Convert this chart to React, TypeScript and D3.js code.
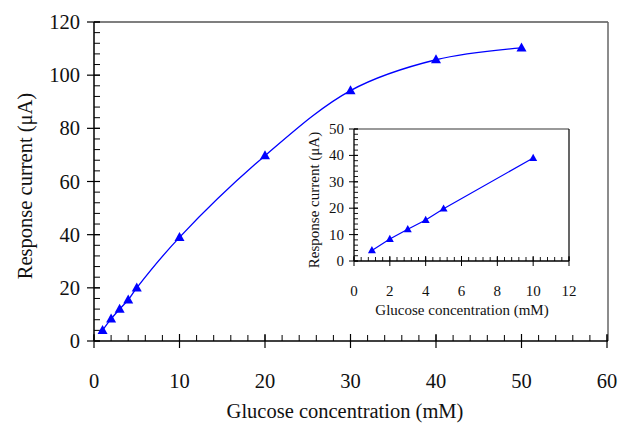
import React from "react";
import * as d3 from "d3";

const glucose = [1, 2, 3, 4, 5, 10, 20, 30, 40, 50];
const current = [4, 8.3, 12, 15.5, 20, 39, 69.7, 94.2, 105.8, 110.3];
const insetGlucose = [1, 2, 3, 4, 5, 10];
const insetCurrent = [4, 8.3, 12, 15.5, 19.8, 39];
const xTicks = [0, 10, 20, 30, 40, 50, 60];
const yTicks = [0, 20, 40, 60, 80, 100, 120];
const insetXTicks = [0, 2, 4, 6, 8, 10, 12];
const insetYTicks = [0, 10, 20, 30, 40, 50];
const xTitle = "Glucose concentration (mM)";
const yTitle = "Response current (\u03bcA)";

const FONT = '"Liberation Serif", "DejaVu Serif", serif';
const BLUE = "#0000FF";
const MAIN_FS = 20.5;

function tri(cx: number, cy: number, s: number) {
  const h = s * 0.9;
  return `M${cx},${cy - h * 0.6}L${cx + s / 2},${cy + h * 0.4}L${cx - s / 2},${cy + h * 0.4}Z`;
}

export default function App() {
  const x = d3.scaleLinear().domain([0, 60]).range([94, 607]);
  const y = d3.scaleLinear().domain([0, 120]).range([341, 22]);
  const ix = d3.scaleLinear().domain([0, 12]).range([354, 569]);
  const iy = d3.scaleLinear().domain([0, 50]).range([261, 129]);

  const mainPts = glucose.map((g, i) => [g, current[i]] as [number, number]);
  const insetPts = insetGlucose.map((g, i) => [g, insetCurrent[i]] as [number, number]);

  const mainLine = d3
    .line<[number, number]>()
    .x((d) => x(d[0]))
    .y((d) => y(d[1]))
    .curve(d3.curveCatmullRom.alpha(0.5));
  const insetLine = d3
    .line<[number, number]>()
    .x((d) => ix(d[0]))
    .y((d) => iy(d[1]));

  const xMinor = d3.range(0, 60.001, 2);
  const yMinor = d3.range(0, 120.001, 4);
  const ixMinor = d3.range(0, 12.001, 0.4);
  const iyMinor = d3.range(0, 50.001, 2);

  const ts = { fontFamily: FONT };

  return (
    <svg
      width={621}
      height={429}
      style={{ position: "absolute", left: 0, top: 0, background: "#fff", fontFamily: FONT }}
    >
      <rect x={0} y={0} width={621} height={429} fill="#fff" />
      {/* main frame */}
      <line x1={x(0)} x2={608} y1={y(120)} y2={y(120)} stroke="#000" strokeWidth={1.2} />
      <line x1={608} x2={608} y1={y(120)} y2={y(0)} stroke="#666" strokeWidth={1.5} />
      {/* main axes */}
      <line x1={x(0)} x2={608} y1={y(0)} y2={y(0)} stroke="#000" strokeWidth={1.5} />
      <line x1={x(0)} x2={x(0)} y1={y(0)} y2={y(120)} stroke="#000" strokeWidth={1.5} />
      {xMinor.map((v) => (
        <line key={"xm" + v} x1={x(v)} x2={x(v)} y1={y(0)} y2={y(0) - 6} stroke="#000" strokeWidth={1} />
      ))}
      {xTicks.map((v) => (
        <g key={"x" + v}>
          <line x1={x(v)} x2={x(v)} y1={y(0) - 7} y2={y(0) + 7} stroke="#000" strokeWidth={1.2} />
          <text x={x(v)} y={388} textAnchor="middle" fontSize={MAIN_FS} fill="#111" style={ts}>
            {v}
          </text>
        </g>
      ))}
      {yMinor.map((v) => (
        <line key={"ym" + v} x1={x(0)} x2={x(0) + 6} y1={y(v)} y2={y(v)} stroke="#000" strokeWidth={1} />
      ))}
      {yTicks.map((v) => (
        <g key={"y" + v}>
          <line x1={x(0) - 7} x2={x(0) + 6} y1={y(v)} y2={y(v)} stroke="#000" strokeWidth={1.2} />
          <text x={80} y={y(v) + 7} textAnchor="end" fontSize={MAIN_FS} fill="#111" style={ts}>
            {v}
          </text>
        </g>
      ))}
      <text x={345} y={418} textAnchor="middle" fontSize={MAIN_FS} fill="#111" style={ts}>
        {xTitle}
      </text>
      <text
        transform={`translate(32,${186}) rotate(-90)`}
        textAnchor="middle"
        fontSize={MAIN_FS}
        fill="#111"
        style={ts}
      >
        {yTitle}
      </text>
      <path d={mainLine(mainPts) || ""} fill="none" stroke={BLUE} strokeWidth={1.3} />
      {mainPts.map((d, i) => (
        <path key={"mp" + i} d={tri(x(d[0]), y(d[1]), 10)} fill={BLUE} />
      ))}

      {/* inset */}
      <line x1={ix(0)} x2={ix(12)} y1={iy(50)} y2={iy(50)} stroke="#777" strokeWidth={1.3} />
      <line x1={ix(12)} x2={ix(12)} y1={iy(50)} y2={iy(0)} stroke="#000" strokeWidth={1.2} />
      <line x1={ix(0)} x2={ix(12)} y1={iy(0)} y2={iy(0)} stroke="#000" strokeWidth={1.3} />
      <line x1={ix(0)} x2={ix(0)} y1={iy(0)} y2={iy(50)} stroke="#000" strokeWidth={1.3} />
      {ixMinor.map((v) => (
        <line key={"ixm" + v} x1={ix(v)} x2={ix(v)} y1={iy(0)} y2={iy(0) - 4} stroke="#000" strokeWidth={0.9} />
      ))}
      {insetXTicks.map((v) => (
        <g key={"ix" + v}>
          <line x1={ix(v)} x2={ix(v)} y1={iy(0) - 5} y2={iy(0) + 5} stroke="#000" strokeWidth={1} />
          <text x={ix(v)} y={296} textAnchor="middle" fontSize={15} fill="#111" style={ts}>
            {v}
          </text>
        </g>
      ))}
      {iyMinor.map((v) => (
        <line key={"iym" + v} x1={ix(0)} x2={ix(0) + 4} y1={iy(v)} y2={iy(v)} stroke="#000" strokeWidth={0.9} />
      ))}
      {insetYTicks.map((v) => (
        <g key={"iy" + v}>
          <line x1={ix(0) - 5} x2={ix(0) + 4} y1={iy(v)} y2={iy(v)} stroke="#000" strokeWidth={1} />
          <text x={344} y={iy(v) + 5} textAnchor="end" fontSize={15} fill="#111" style={ts}>
            {v}
          </text>
        </g>
      ))}
      <text x={462} y={315} textAnchor="middle" fontSize={15} fill="#111" style={ts}>
        {xTitle}
      </text>
      <text
        transform={`translate(319,${200}) rotate(-90)`}
        textAnchor="middle"
        fontSize={15}
        fill="#111"
        style={ts}
      >
        {yTitle}
      </text>
      <path d={insetLine(insetPts) || ""} fill="none" stroke={BLUE} strokeWidth={1.2} />
      {insetPts.map((d, i) => (
        <path key={"ip" + i} d={tri(ix(d[0]), iy(d[1]), 8)} fill={BLUE} />
      ))}
    </svg>
  );
}
